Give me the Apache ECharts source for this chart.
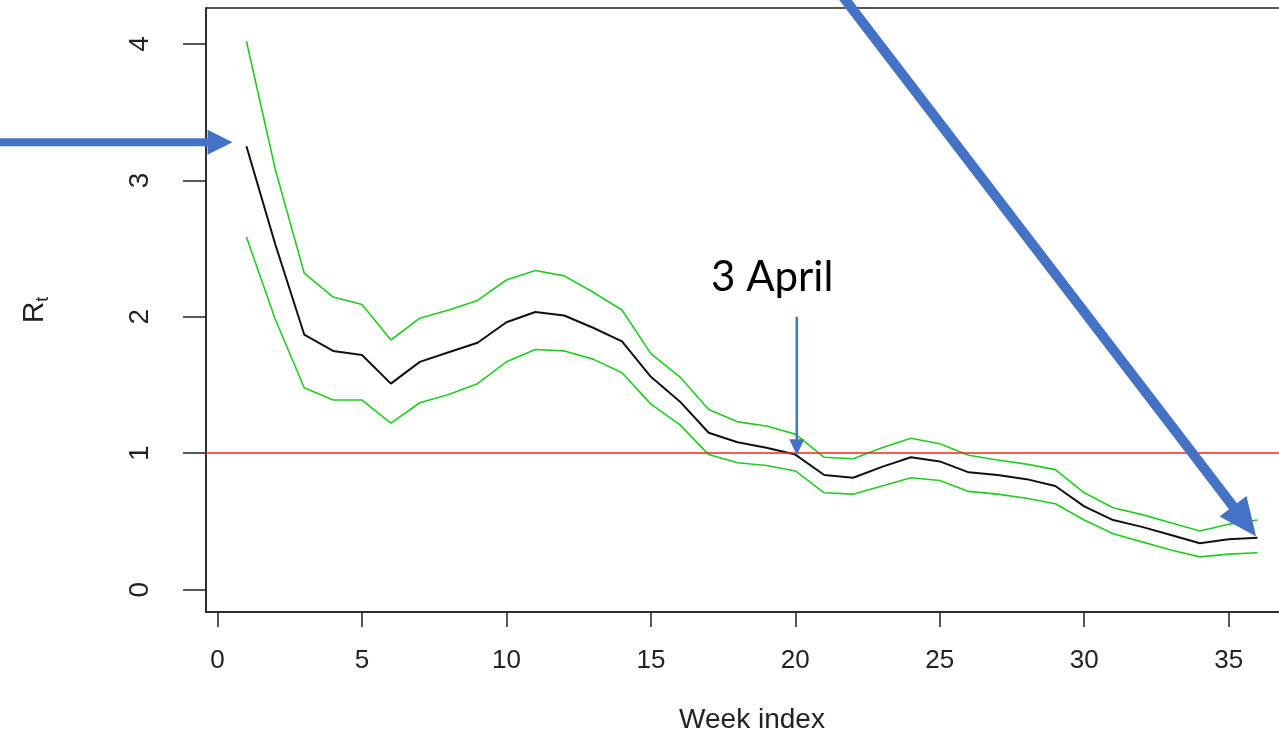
<!DOCTYPE html>
<html>
<head>
<meta charset="utf-8">
<script src="https://cdn.jsdelivr.net/npm/echarts@6/dist/echarts.min.js"></script>
<style>
html,body{margin:0;padding:0;background:#fff;}
#chart{width:1279px;height:734px;}
</style>
</head>
<body>
<div id="chart"></div>
<script>
// ---- data ----
const weeks = [1,2,3,4,5,6,7,8,9,10,11,12,13,14,15,16,17,18,19,20,21,22,23,24,25,26,27,28,29,30,31,32,33,34,35,36];
const rMean = [3.25,2.53,1.87,1.75,1.72,1.51,1.67,1.74,1.81,1.96,2.035,2.01,1.92,1.82,1.56,1.38,1.15,1.08,1.04,0.99,0.84,0.82,0.90,0.97,0.94,0.86,0.84,0.81,0.76,0.61,0.51,0.46,0.40,0.34,0.37,0.38];
const rUpper = [4.02,3.08,2.32,2.145,2.09,1.83,1.99,2.05,2.12,2.27,2.34,2.30,2.18,2.05,1.73,1.56,1.32,1.23,1.20,1.14,0.97,0.96,1.04,1.11,1.07,0.985,0.95,0.92,0.88,0.71,0.60,0.55,0.49,0.43,0.48,0.51];
const rLower = [2.585,1.98,1.48,1.39,1.39,1.22,1.37,1.43,1.51,1.67,1.76,1.75,1.69,1.59,1.36,1.21,0.99,0.93,0.91,0.87,0.71,0.70,0.76,0.82,0.80,0.72,0.70,0.67,0.63,0.51,0.41,0.35,0.29,0.24,0.26,0.27];
const threshold = 1;
const xTicks = [0,5,10,15,20,25,30,35];
const yTicks = [0,1,2,3,4];
const xTitle = 'Week index';
const annotationText = '3 April';
// annotation anchors in data coordinates [week, R]
const leftArrow = {from:[-7.6, 3.28], to:[0.52, 3.28]};
const diagArrow = {from:[21.6, 4.36], to:[35.95, 0.39]};
const aprilArrow = {from:[20.05, 2.0], to:[20.05, 0.985]};
const aprilLabel = [19.2, 2.29];

const pairs = v => weeks.map((w,i)=>[w, v[i]]);

const chart = echarts.init(document.getElementById('chart'), null, {renderer:'canvas'});
const axisFont = 'Liberation Sans, Arial, sans-serif';
chart.setOption({
  animation:false,
  backgroundColor:'#ffffff',
  grid:{left:206, top:8, right:-19, bottom:122, outerBoundsMode:'none', containLabel:false,
    show:true, borderColor:'#222', borderWidth:1.5, backgroundColor:'transparent'},
  xAxis:{
    type:'value', min:-0.4, max:37.4,
    name:xTitle, nameLocation:'middle', nameGap:94,
    nameTextStyle:{fontFamily:axisFont, fontSize:28, color:'#222'},
    axisLine:{show:true, onZero:false, lineStyle:{color:'#222', width:1.5}},
    axisTick:{show:true, customValues:xTicks, length:15, lineStyle:{color:'#222', width:1.5}},
    axisLabel:{customValues:xTicks, fontFamily:axisFont, fontSize:26, color:'#222', margin:36},
    splitLine:{show:false}
  },
  yAxis:{
    type:'value', min:-0.164, max:4.264,
    name:'{r|R}{t|t}', nameLocation:'middle', nameGap:154, nameRotate:90,
    nameTextStyle:{fontFamily:axisFont, color:'#222', rich:{
      r:{fontFamily:axisFont, fontSize:30, color:'#222', lineHeight:34},
      t:{fontFamily:axisFont, fontSize:18, color:'#222', lineHeight:34, verticalAlign:'bottom'}
    }},
    axisLine:{show:true, onZero:false, lineStyle:{color:'#222', width:1.5}},
    axisTick:{show:true, customValues:yTicks, length:23, lineStyle:{color:'#222', width:1.5}},
    axisLabel:{customValues:yTicks, rotate:90, fontFamily:axisFont, fontSize:28, color:'#222', margin:52},
    splitLine:{show:false}
  },
  series:[
    {type:'line', name:'upper', data:pairs(rUpper), showSymbol:false, lineStyle:{color:'#22cc22', width:1.6}, z:3},
    {type:'line', name:'lower', data:pairs(rLower), showSymbol:false, lineStyle:{color:'#22cc22', width:1.6}, z:3},
    {type:'line', name:'mean', data:pairs(rMean), showSymbol:false, lineStyle:{color:'#111', width:2}, z:4,
      markLine:{silent:true, symbol:'none', label:{show:false}, lineStyle:{color:'#ff2020', type:'solid', width:1.6},
        data:[{yAxis:threshold}]}}
  ]
});

function arrowShapes(a, width, headLen, headWidth, color){
  const p0 = chart.convertToPixel({gridIndex:0}, a.from);
  const p1 = chart.convertToPixel({gridIndex:0}, a.to);
  const dx = p1[0]-p0[0], dy = p1[1]-p0[1];
  const L = Math.sqrt(dx*dx+dy*dy);
  const ux = dx/L, uy = dy/L;
  const bx = p1[0]-ux*headLen, by = p1[1]-uy*headLen;
  const px = -uy, py = ux;
  return [
    {type:'line', z:100, shape:{x1:p0[0], y1:p0[1], x2:bx+ux*1, y2:by+uy*1}, style:{stroke:color, lineWidth:width}},
    {type:'polygon', z:101, shape:{points:[[p1[0],p1[1]],[bx+px*headWidth/2, by+py*headWidth/2],[bx-px*headWidth/2, by-py*headWidth/2]]}, style:{fill:color}}
  ];
}
const blue = '#4472C4';
const lp = chart.convertToPixel({gridIndex:0}, aprilLabel);
chart.setOption({
  graphic:[].concat(
    arrowShapes(leftArrow, 8, 25, 25, blue),
    arrowShapes(diagArrow, 10, 38, 34, blue),
    arrowShapes(aprilArrow, 2.5, 16, 15, blue),
    [{type:'text', z:102, x:lp[0], y:lp[1], style:{text:annotationText, font:'42px Lato, "Open Sans", sans-serif', fill:'#000', align:'center', verticalAlign:'middle'}}]
  )
});
</script>
</body>
</html>
